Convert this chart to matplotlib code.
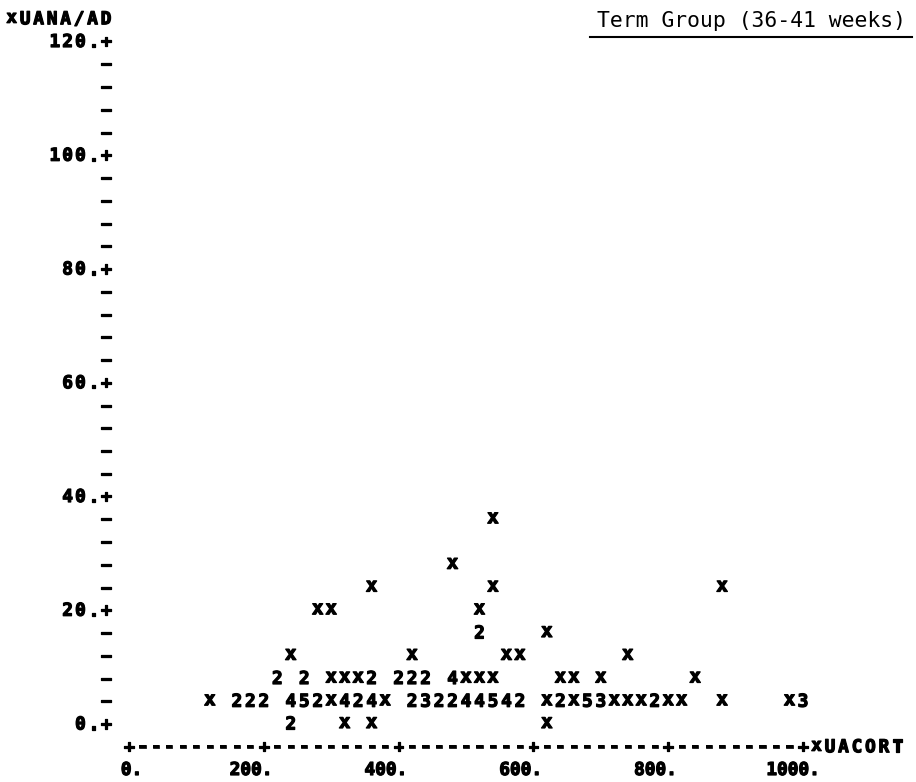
import matplotlib
matplotlib.use("Agg")
import matplotlib.pyplot as plt
import matplotlib.patheffects as pe
from matplotlib.transforms import ScaledTranslation

# ---- data (line-printer scatter: UACORT vs UANA/AD, n = cases at a print cell)
uacort = [540,
          480,
          360, 540, 880,
          280, 300, 520,
          520, 620,
          240, 420, 560, 580, 740,
          220, 260, 300, 320, 340, 360, 400, 420, 440, 480, 500, 520, 540, 640, 660, 700, 840,
          120, 160, 180, 200, 240, 260, 280, 300, 320, 340, 360, 380, 420, 440, 460, 480,
          500, 520, 540, 560, 580, 620, 640, 660, 680, 700, 720, 740, 760, 780, 800, 820,
          880, 980, 1000,
          240, 320, 360, 620]
uana_ad = [36,
           28,
           24, 24, 24,
           20, 20, 20,
           16, 16,
           12, 12, 12, 12, 12,
           8, 8, 8, 8, 8, 8, 8, 8, 8, 8, 8, 8, 8, 8, 8, 8, 8,
           4, 4, 4, 4, 4, 4, 4, 4, 4, 4, 4, 4, 4, 4, 4, 4,
           4, 4, 4, 4, 4, 4, 4, 4, 4, 4, 4, 4, 4, 4, 4, 4,
           4, 4, 4,
           0, 0, 0, 0]
n_cases = [1,
           1,
           1, 1, 1,
           1, 1, 1,
           2, 1,
           1, 1, 1, 1, 1,
           2, 2, 1, 1, 1, 2, 2, 2, 2, 4, 1, 1, 1, 1, 1, 1, 1,
           1, 2, 2, 2, 4, 5, 2, 1, 4, 2, 4, 1, 2, 3, 2, 2,
           4, 4, 5, 4, 2, 1, 2, 1, 5, 3, 1, 1, 1, 2, 1, 1,
           1, 1, 3,
           2, 1, 1, 1]

x_ticks = [0, 200, 400, 600, 800, 1000]
y_ticks = [0, 20, 40, 60, 80, 100, 120]
x_name = "xUACORT"
y_name = "xUANA/AD"
title = "Term Group (36-41 weeks)"

# ---- print grid geometry
W, H, DPI = 916, 782, 100
X0_PX, X_PITCH = 129.0, 13.48      # pixel of UACORT=0, pixels per print column
Y0_PX, Y_PITCH = 723.0, 22.75      # pixel row of UANA/AD=0, pixels per print line
X_STEP, Y_STEP = 20, 4             # data units per column / per line
YAXIS_PX = 106.0
MONO = "DejaVu Sans Mono"
FS = 12.8
BOLD = [pe.withStroke(linewidth=0.9, foreground="black")]

fig = plt.figure(figsize=(W / DPI, H / DPI), dpi=DPI)
ax = fig.add_axes([0, 0, 1, 1])
ax.set_xlim(-X0_PX / X_PITCH * X_STEP, (W - X0_PX) / X_PITCH * X_STEP)
ax.set_ylim(-(H - Y0_PX) / Y_PITCH * Y_STEP, Y0_PX / Y_PITCH * Y_STEP)
ax.axis("off")

yaxis_val = (YAXIS_PX - X0_PX) / X_PITCH * X_STEP


def put(xv, yv, s, dy_px=0.0, size=FS, stroke=BOLD):
    tr = ax.transData + ScaledTranslation(0, -(6.5 - dy_px) / DPI, fig.dpi_scale_trans)
    ax.text(xv, yv, s, transform=tr, ha="center", va="baseline",
            fontsize=size, fontweight="bold", family=MONO, color="black",
            path_effects=stroke)


# data cells
for xv, yv, n in zip(uacort, uana_ad, n_cases):
    if n == 1:
        put(xv, yv, "x", dy_px=1.5, size=FS + 1.2)
    else:
        put(xv, yv, str(n))

# x axis line
x_axis_y = -Y_STEP
ncols = x_ticks[-1] // X_STEP
for k in range(ncols + 1):
    v = k * X_STEP
    if v in x_ticks:
        put(v, x_axis_y, "+")
    else:
        put(v, x_axis_y, "-", size=FS + 1.5, stroke=[pe.withStroke(linewidth=0.5, foreground="black")])
for i, ch in enumerate(x_name):
    put((ncols + 1 + i) * X_STEP, x_axis_y, ch, dy_px=1.5 if ch == "x" else 0)

# x tick labels
for t in x_ticks:
    s = f"{t}."
    shift = 0.6 if t == 0 else (0.85 if t >= 1000 else 0.25)
    tr = ax.transData + ScaledTranslation(5 / DPI, -(6.5) / DPI, fig.dpi_scale_trans)
    ax.text(t + X_STEP * shift, 2 * x_axis_y, s, transform=tr,
            ha="right", va="baseline", fontsize=FS, fontweight="bold",
            family=MONO, color="black", path_effects=BOLD)

# y axis
for v in range(0, y_ticks[-1] + 1, Y_STEP):
    if v in y_ticks:
        put(yaxis_val, v, "+")
    else:
        put(yaxis_val, v, "\u2013", dy_px=0.5)
for t in y_ticks:
    s = f"{t}."
    for i, ch in enumerate(reversed(s)):
        put(yaxis_val - (i + 1) * X_STEP * 0.95, t, ch)
top_row = y_ticks[-1] + Y_STEP
for i, ch in enumerate(reversed(y_name)):
    put(yaxis_val - i * X_STEP, top_row, ch, dy_px=1.5 if ch == "x" else 0)

# title (typed, underlined)
fig.text(906 / W, 1 - 21 / H, title, ha="right", va="center",
         fontsize=15.4, family=MONO, color="black")
fig.add_artist(plt.Line2D([590 / W, 912 / W], [1 - 36.5 / H, 1 - 36.5 / H],
                          transform=fig.transFigure, color="black", lw=1.5))

fig.savefig("out.png", dpi=DPI, facecolor="white")
